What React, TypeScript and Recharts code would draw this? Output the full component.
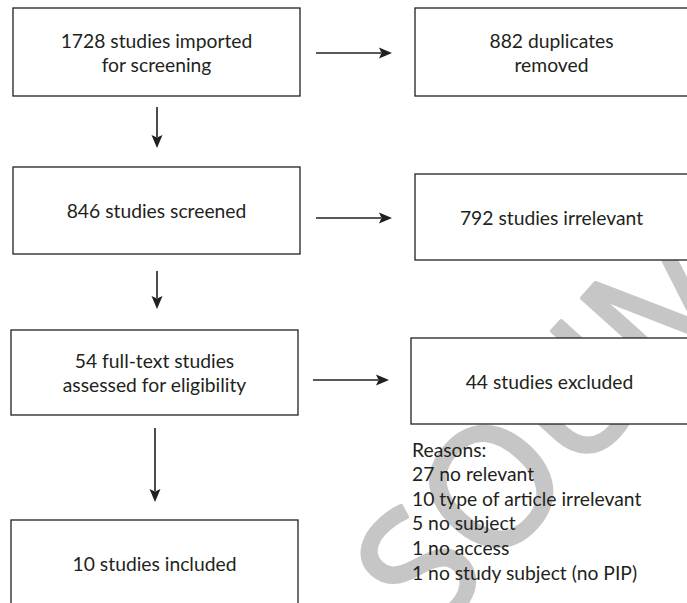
import React from "react";
import {
  ScatterChart,
  Scatter,
  XAxis,
  YAxis,
  ReferenceArea,
  ReferenceLine,
  ReferenceDot,
} from "recharts";

// ---- data (text content of the flow diagram) ----
const mainSteps: string[][] = [
  ["1728 studies imported", "for screening"],
  ["846 studies screened"],
  ["54 full-text studies", "assessed for eligibility"],
  ["10 studies included"],
];
const excludedSteps: string[][] = [
  ["882 duplicates", "removed"],
  ["792 studies irrelevant"],
  ["44 studies excluded"],
];
const reasonsTitle = "Reasons:";
const reasons: string[] = [
  "27 no relevant",
  "10 type of article irrelevant",
  "5 no subject",
  "1 no access",
  "1 no study subject (no PIP)",
];
const watermark = "SOUMIS";

// ---- layout (chart units == pixels) ----
const W = 687;
const H = 603;
const mainBoxes = [
  { x1: 13, x2: 300, y1: 8, y2: 96 },
  { x1: 13, x2: 300, y1: 167, y2: 254 },
  { x1: 11, x2: 298, y1: 330, y2: 415 },
  { x1: 11, x2: 298, y1: 520, y2: 606 },
];
const sideBoxes = [
  { x1: 415, x2: 688, y1: 8, y2: 96 },
  { x1: 415, x2: 688, y1: 174, y2: 260 },
  { x1: 411, x2: 688, y1: 338, y2: 424 },
];
const rightArrows = [
  { x1: 316, x2: 392, y: 53 },
  { x1: 316, x2: 392, y: 218 },
  { x1: 313, x2: 389, y: 380 },
];
const downArrows = [
  { x: 157, y1: 107, y2: 148 },
  { x: 157, y1: 271, y2: 309 },
  { x: 155, y1: 428, y2: 502 },
];
const reasonsX = 412;
const reasonsY0 = 449;
const reasonsStep = 24.6;
const watermarkPos = { x: 593, y: 366 };

const FONT = "Lato, 'Open Sans', sans-serif";
const INK = "#231f20";
const FS = 19.3;
const LINE_H = 24;

const boxShape = (lines: string[]) => (props: any) => {
  const { x, y, width, height } = props;
  const cx = x + width / 2;
  const cy = y + height / 2;
  return (
    <g>
      <rect x={x} y={y} width={width} height={height} fill="#ffffff" stroke={INK} strokeWidth={1.3} />
      {lines.map((l, i) => (
        <text
          key={i}
          x={cx}
          y={cy + (i - (lines.length - 1) / 2) * LINE_H}
          textAnchor="middle"
          dominantBaseline="central"
          fontFamily={FONT}
          fontSize={FS}
          fill={INK}
        >
          {l}
        </text>
      ))}
    </g>
  );
};

const arrowShape = (props: any) => {
  const { x1, y1, x2, y2 } = props;
  const dx = x2 - x1;
  const dy = y2 - y1;
  const len = Math.sqrt(dx * dx + dy * dy) || 1;
  const ux = dx / len;
  const uy = dy / len;
  const head = 13;
  const hw = 5.5;
  const bx = x2 - ux * head;
  const by = y2 - uy * head;
  const px = -uy;
  const py = ux;
  return (
    <g>
      <line x1={x1} y1={y1} x2={bx + ux * 2} y2={by + uy * 2} stroke={INK} strokeWidth={1.6} />
      <polygon
        points={`${x2},${y2} ${bx + px * hw},${by + py * hw} ${bx + ux * 2.5},${by + uy * 2.5} ${bx - px * hw},${by - py * hw}`}
        fill={INK}
      />
    </g>
  );
};

const watermarkShape = (props: any) => {
  const { cx, cy } = props;
  return (
    <text
      x={cx}
      y={cy}
      textAnchor="middle"
      dominantBaseline="central"
      fontFamily="'Open Sans', sans-serif"
      fontSize={165}
      fill="#c6c6c6"
      stroke="#c6c6c6"
      strokeWidth={4}
      strokeLinejoin="round"
      transform={`rotate(-48 ${cx} ${cy})`}
    >
      {watermark}
    </text>
  );
};

const reasonsData = [reasonsTitle, ...reasons].map((t, i) => ({
  x: reasonsX,
  y: reasonsY0 + i * reasonsStep,
  label: t,
}));

const reasonShape = (props: any) => {
  const { cx, cy, payload } = props;
  return (
    <text x={cx} y={cy} dominantBaseline="central" fontFamily={FONT} fontSize={FS} fill={INK}>
      {payload.label}
    </text>
  );
};

export default function App() {
  return (
    <div style={{ position: "absolute", left: 0, top: 0, background: "#fff" }}>
      <ScatterChart width={W} height={H} margin={{ top: 0, right: 0, bottom: 0, left: 0 }}>
        <XAxis type="number" dataKey="x" domain={[0, W]} hide allowDataOverflow />
        <YAxis type="number" dataKey="y" domain={[0, H]} reversed hide allowDataOverflow />
        <ReferenceDot
          x={watermarkPos.x}
          y={watermarkPos.y}
          r={1}
          ifOverflow="visible"
          shape={watermarkShape}
          {...({ zIndex: -100 } as any)}
        />
        {mainBoxes.map((b, i) => (
          <ReferenceArea
            key={"m" + i}
            x1={b.x1}
            x2={b.x2}
            y1={b.y1}
            y2={b.y2}
            ifOverflow="visible"
            shape={boxShape(mainSteps[i])}
          />
        ))}
        {sideBoxes.map((b, i) => (
          <ReferenceArea
            key={"s" + i}
            x1={b.x1}
            x2={b.x2}
            y1={b.y1}
            y2={b.y2}
            ifOverflow="visible"
            shape={boxShape(excludedSteps[i])}
          />
        ))}
        {rightArrows.map((a, i) => (
          <ReferenceLine
            key={"r" + i}
            segment={[{ x: a.x1, y: a.y }, { x: a.x2, y: a.y }]}
            ifOverflow="visible"
            shape={arrowShape}
          />
        ))}
        {downArrows.map((a, i) => (
          <ReferenceLine
            key={"d" + i}
            segment={[{ x: a.x, y: a.y1 }, { x: a.x, y: a.y2 }]}
            ifOverflow="visible"
            shape={arrowShape}
          />
        ))}
        <Scatter data={reasonsData} isAnimationActive={false} shape={reasonShape} />
      </ScatterChart>
    </div>
  );
}
